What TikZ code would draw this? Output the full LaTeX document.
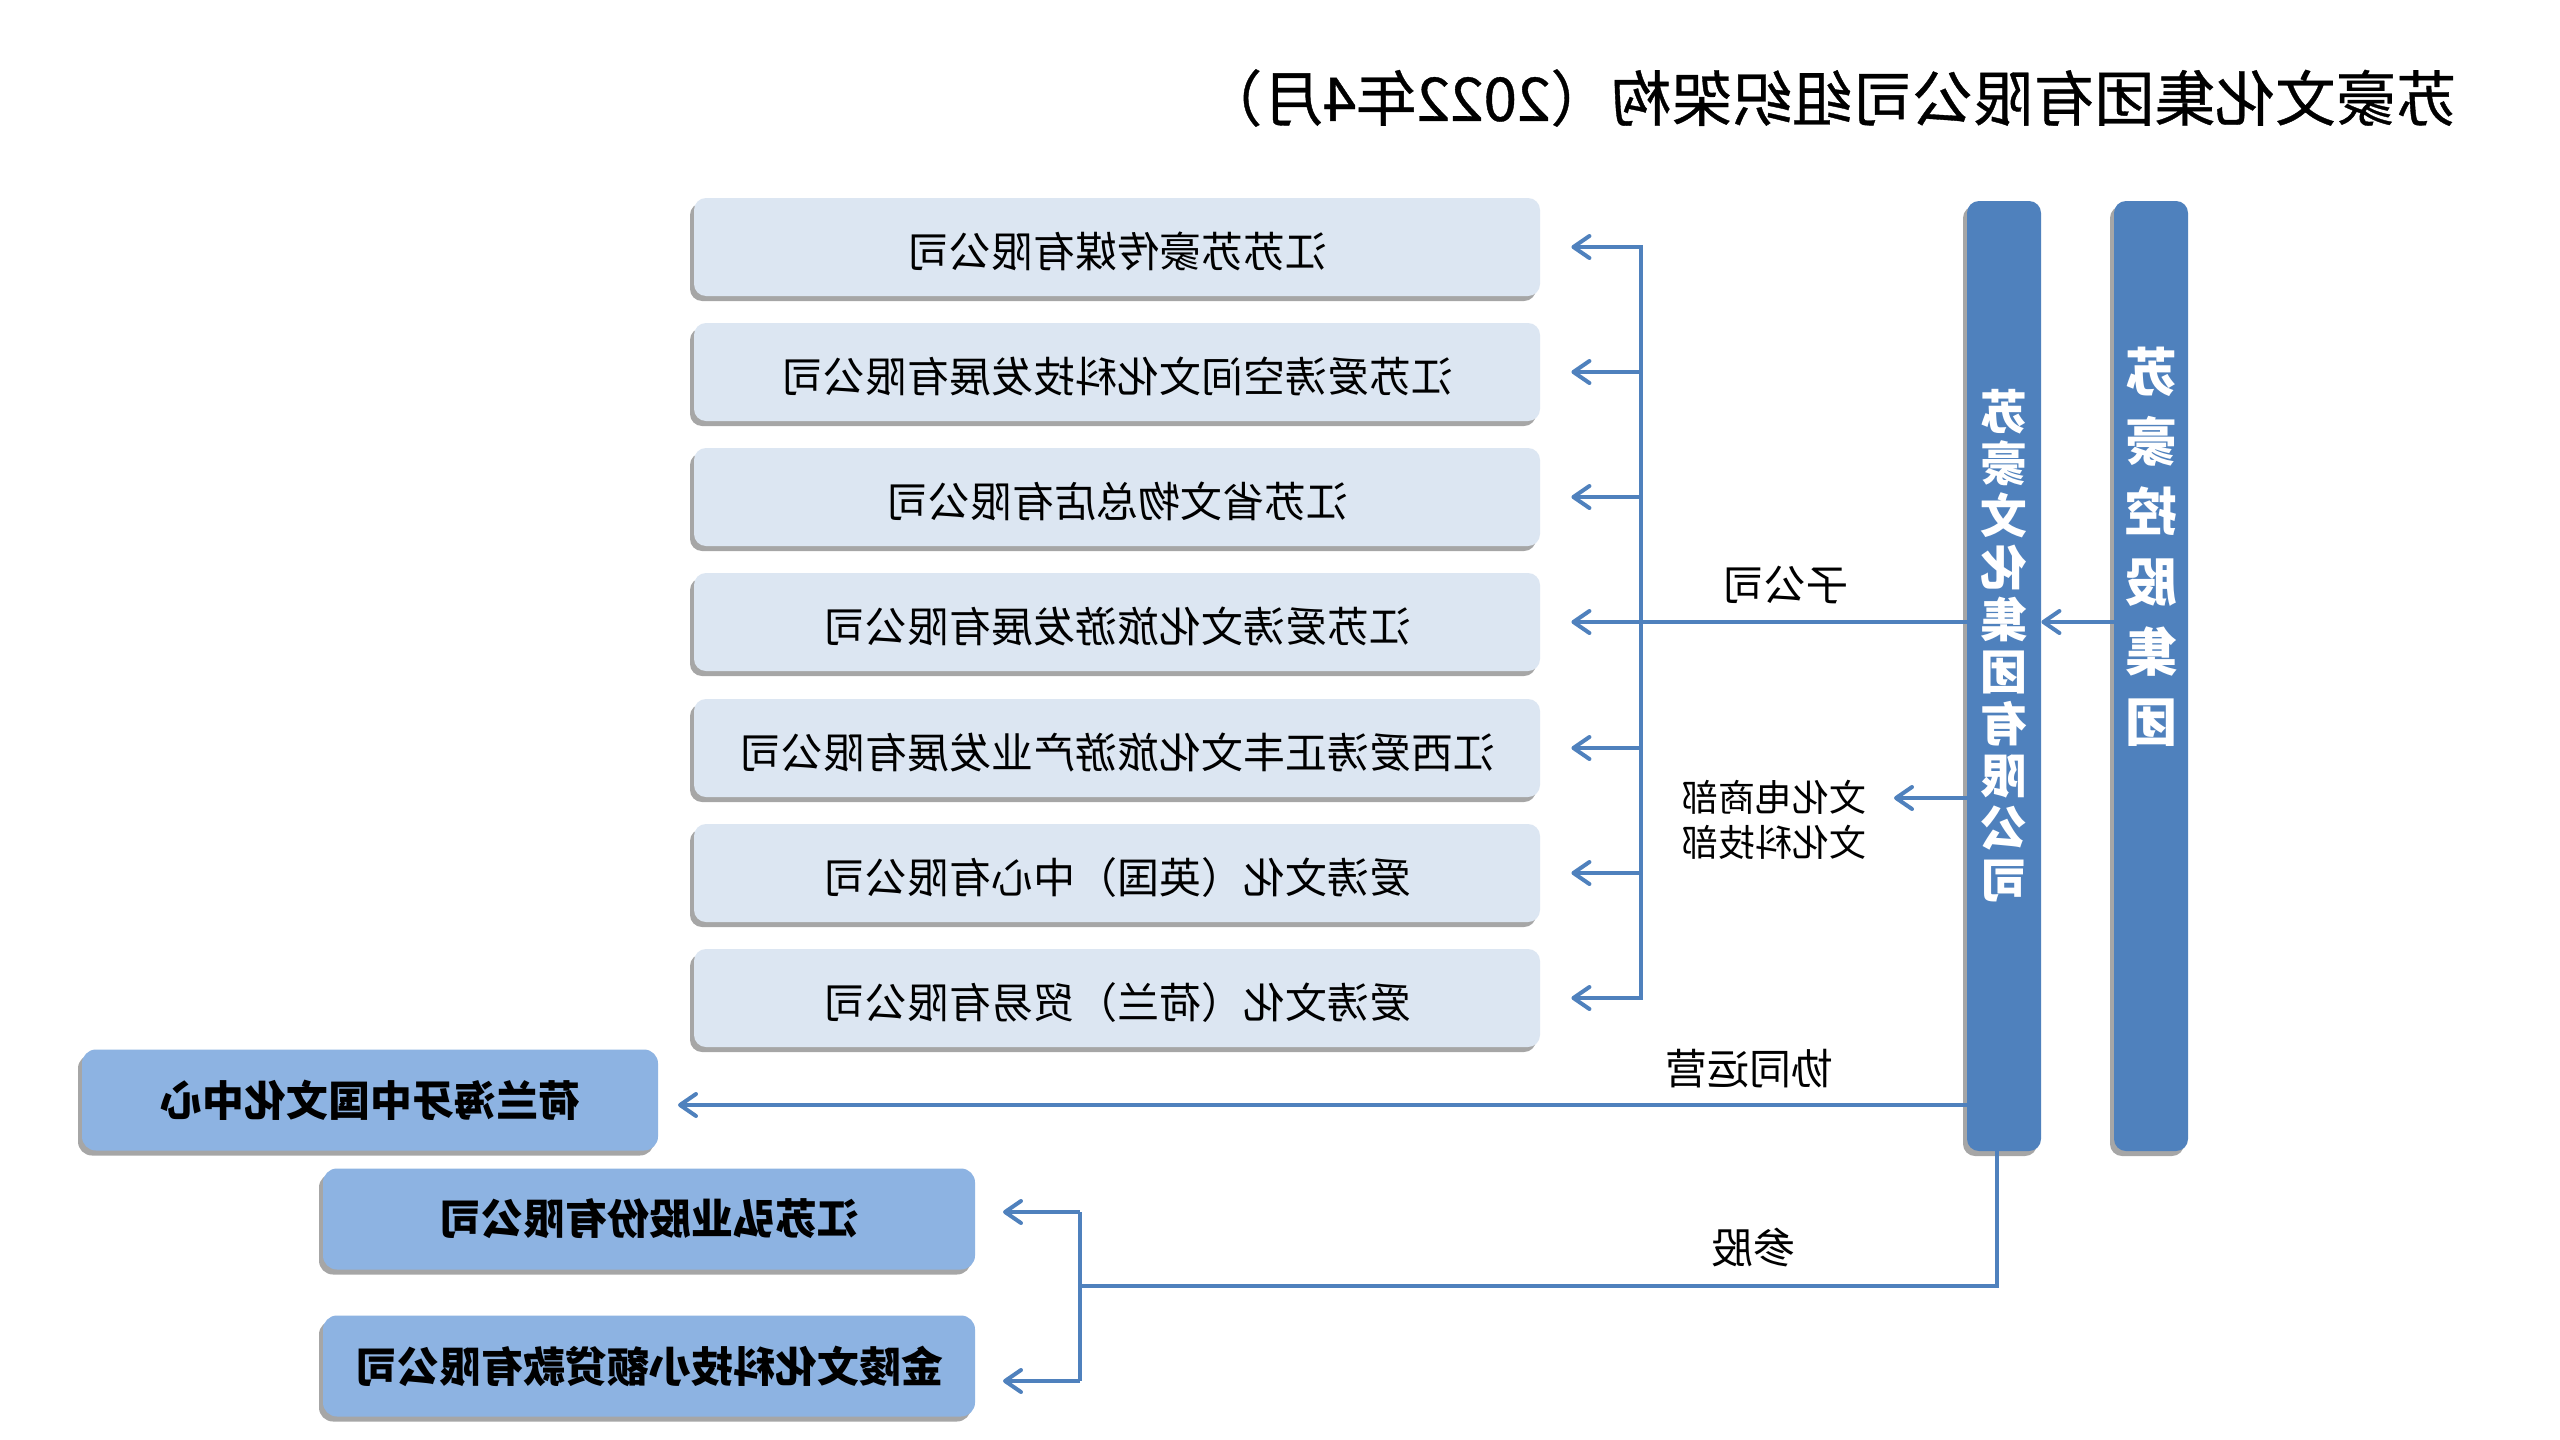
\documentclass[tikz,border=0pt]{standalone}
\usepackage{fontspec}
\setmainfont{Noto Sans CJK SC}
\newfontfamily\titlefont{Noto Sans CJK SC}[BoldFont={Noto Sans CJK SC},BoldFeatures={FakeBold=0.6}]
\usepackage{graphicx}
\usetikzlibrary{arrows.meta,shadows,calc}
\definecolor{linecol}{HTML}{4F81BD}
\definecolor{lightbox}{HTML}{DCE6F2}
\definecolor{midbox}{HTML}{8DB3E2}
\newcommand\rb[1]{\reflectbox{#1}}
\begin{document}
\begin{tikzpicture}[x=0.5pt,y=-0.5pt,
  shad/.style={drop shadow={shadow xshift=-2pt,shadow yshift=-2.5pt,fill=black,opacity=0.35}},
  subbox/.style={shad, rectangle, rounded corners=6pt, fill=lightbox, minimum width=423pt, minimum height=49pt, inner sep=0pt, text height=20pt, text depth=0pt, font=\fontsize{21}{25}\selectfont},
  extbox/.style={shad, rectangle, rounded corners=7pt, fill=midbox, minimum height=50.5pt, inner sep=0pt, font=\bfseries\fontsize{21}{25}\selectfont},
  bar/.style={shad, rectangle, rounded corners=6pt, fill=linecol, minimum width=37pt, minimum height=475pt, inner sep=0pt},
  bartext/.style={text=white, align=center, inner sep=0pt},
  conn/.style={draw=linecol, line width=2pt},
  arr/.style={conn, -{Straight Barb[length=8pt,width=11pt,line width=2pt,round]}},
  lbl/.style={font=\fontsize{21}{25}\selectfont, inner sep=0pt}
]
\useasboundingbox[fill=white] (0,0) rectangle (2560,1440);

% title
\node[anchor=east, inner sep=0pt, font=\titlefont\bfseries\fontsize{30.2}{34}\selectfont] (title) at (2457,98) {\rb{苏豪文化集团有限公司组织架构（2022年4月）}};

% subsidiaries
\node[subbox] (b1) at (1117,247) {\rb{江苏苏豪传媒有限公司}};
\node[subbox] (b2) at (1117,372) {\rb{江苏爱涛空间文化科技发展有限公司}};
\node[subbox] (b3) at (1117,497) {\rb{江苏省文物总店有限公司}};
\node[subbox] (b4) at (1117,622) {\rb{江苏爱涛文化旅游发展有限公司}};
\node[subbox] (b5) at (1117,748) {\rb{江西爱涛正丰文化旅游产业发展有限公司}};
\node[subbox] (b6) at (1117,873) {\rb{爱涛文化（英国）中心有限公司}};
\node[subbox] (b7) at (1117,998) {\rb{爱涛文化（荷兰）贸易有限公司}};

% external boxes
\node[extbox, minimum width=288pt] (hl) at (370,1100) {\rb{荷兰海牙中国文化中心}};
\node[extbox, minimum width=326pt] (hy) at (649,1219) {\rb{江苏弘业股份有限公司}};
\node[extbox, minimum width=326pt] (jl) at (649,1366) {\rb{金陵文化科技小额贷款有限公司}};

% bars
\node[bar] (mbar) at (2004,676) {};
\node[bar] (rbar) at (2151,676) {};
\node[bartext, font=\bfseries\fontsize{23.5}{26}\selectfont] (mtext) at (2004,646)
  {\rb{苏}\\\rb{豪}\\\rb{文}\\\rb{化}\\\rb{集}\\\rb{团}\\\rb{有}\\\rb{限}\\\rb{公}\\\rb{司}};
\node[bartext, font=\bfseries\fontsize{26}{35}\selectfont] (rtext) at (2151,547)
  {\rb{苏}\\\rb{豪}\\\rb{控}\\\rb{股}\\\rb{集}\\\rb{团}};

% labels
\node[lbl] (lsub) at (1785,585) {\rb{子公司}};
\node[lbl, font=\fontsize{18.5}{22.5}\selectfont, align=center] (ldept) at (1774,820) {\rb{文化电商部}\\\rb{文化科技部}};
\node[lbl] (lxt) at (1749,1069) {\rb{协同运营}};
\node[lbl] (lcg) at (1753,1247) {\rb{参股}};

% connectors
\coordinate (vx) at (1641,0);
\draw[arr] (rbar.west |- b4) -- (mbar.east |- b4);
\draw[arr, shorten >=15.5pt] (mbar.west |- b4) -- (b4.east);
\draw[conn, line cap=rect] (b1 -| vx) -- (b7 -| vx);
\foreach \b in {b1,b2,b3,b5,b6,b7}{
  \draw[arr, shorten >=15.5pt] (\b -| vx) -- (\b.east);
}
\coordinate (depttip) at (1894,798);
\draw[arr] (mbar.west |- depttip) -- (depttip);
\coordinate (hltip) at (678,1105);
\draw[arr] (mbar.center |- hltip) -- (hltip);

\coordinate (cgdown) at (1997,1286);
\coordinate (cgx) at (1080,1286);
\coordinate (hytip) at (1003,1212);
\coordinate (jltip) at (1003,1381);
\draw[conn] (mbar.south -| cgdown) -- (cgdown) -- (cgx);
\draw[conn] (cgx |- hytip) -- (cgx |- jltip);
\draw[arr] (cgx |- hytip) -- (hytip);
\draw[arr] (cgx |- jltip) -- (jltip);
\end{tikzpicture}
\end{document}
